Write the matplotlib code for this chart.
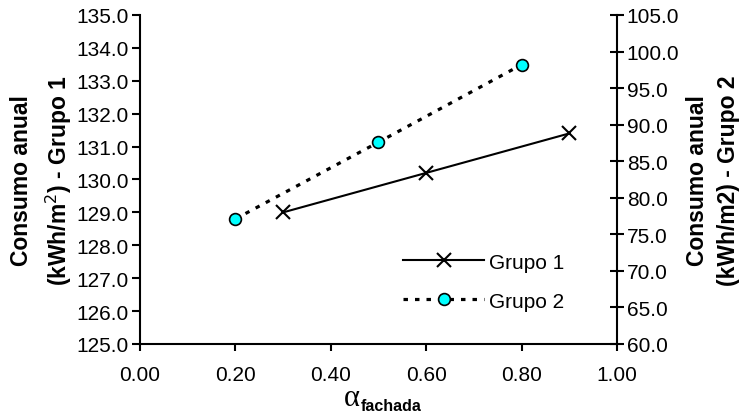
import matplotlib.pyplot as plt
from matplotlib.ticker import FixedLocator

plt.rcParams['font.family'] = ['Liberation Sans', 'DejaVu Sans']

# series data
x_g1 = [0.3, 0.6, 0.9]
y_g1 = [129.0, 130.2, 131.4]
x_g2 = [0.2, 0.5, 0.8]
y_g2 = [77.1, 87.6, 98.2]

x_ticks = [0.0, 0.2, 0.4, 0.6, 0.8, 1.0]
y1_ticks = [125, 126, 127, 128, 129, 130, 131, 132, 133, 134, 135]
y2_ticks = [60, 65, 70, 75, 80, 85, 90, 95, 100, 105]

fs = 15
lfs = 16.5

fig = plt.figure(figsize=(7.39, 4.14), dpi=100)
ax = fig.add_axes([0.1894, 0.1667, 0.6455, 0.7947])
ax2 = ax.twinx()

l1, = ax.plot(x_g1, y_g1, color='black', lw=1.5, marker='x', markersize=10,
              markeredgewidth=1.5, label='Grupo 1')
l2, = ax2.plot(x_g2, y_g2, color='black', lw=2.3, linestyle=(0, (1.4, 2.2)),
               dash_capstyle='butt', marker='o', markersize=8.5,
               markerfacecolor='#00ffff', markeredgecolor='black',
               markeredgewidth=1.2, label='Grupo 2')

ax.set_xlim(0, 1)
ax.set_ylim(125, 135)
ax2.set_ylim(60, 105)
ax.xaxis.set_major_locator(FixedLocator(x_ticks))
ax.yaxis.set_major_locator(FixedLocator(y1_ticks))
ax2.yaxis.set_major_locator(FixedLocator(y2_ticks))
ax.set_xticklabels([f'{v:.2f}' for v in x_ticks])
ax.set_yticklabels([f'{v:.1f}' for v in y1_ticks])
ax2.set_yticklabels([f'{v:.1f}' for v in y2_ticks])

for a in (ax, ax2):
    a.spines['top'].set_visible(False)
ax.spines['right'].set_visible(False)
ax2.spines['left'].set_visible(False)
ax2.spines['bottom'].set_visible(False)
ax.spines['left'].set_linewidth(1.5)
ax.spines['bottom'].set_linewidth(1.5)
ax2.spines['right'].set_linewidth(1.5)

ax.tick_params(axis='both', direction='out', length=6, width=1.5,
               labelsize=fs, pad=2)
ax.tick_params(axis='x', length=5, pad=10)
ax2.tick_params(axis='y', direction='inout', length=10, width=1.5,
                labelsize=fs, pad=2)

ax.set_ylabel('Consumo anual\n(kWh/m$^2$) - Grupo 1', fontsize=lfs,
              fontweight='bold', labelpad=2, linespacing=1.45)
ax2.set_ylabel('Consumo anual\n(kWh/m2) - Grupo 2', fontsize=lfs,
               fontweight='bold', labelpad=5, linespacing=1.45)

# x label: large alpha with a small bold subscript
fig.text(0.4763, 0.0193, 'α', fontsize=22, family='Liberation Serif',
         ha='center', va='baseline')
fig.text(0.4885, 0.0073, 'fachada', fontsize=11.5, fontweight='bold',
         ha='left', va='baseline')

ax.legend(handles=[l1, l2], loc='lower left', bbox_to_anchor=(0.53, 0.07),
          frameon=False, fontsize=fs, handlelength=3.9, handletextpad=0.2,
          labelspacing=0.95, borderpad=0)

fig.savefig('out.png', dpi=100)
